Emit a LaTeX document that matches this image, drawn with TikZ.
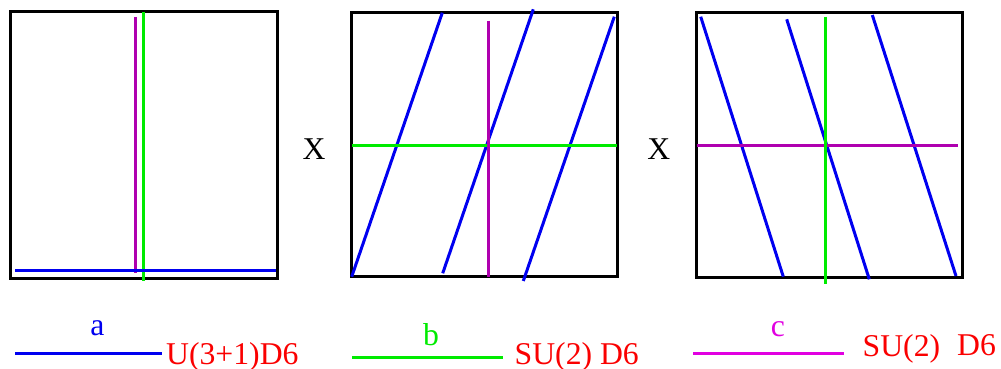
\documentclass[tikz,border=0pt]{standalone}
\usepackage{fontspec}
\setmainfont{Liberation Serif}
\definecolor{lblue}{RGB}{0,0,240}
\definecolor{lgreen}{RGB}{0,235,0}
\definecolor{lpurple}{RGB}{175,0,175}
\definecolor{lmagenta}{RGB}{225,0,225}
\definecolor{lred}{RGB}{250,0,0}
\tikzset{
  frame/.style={draw=black,line width=3pt},
  brane/.style={line width=3pt},
  lbl/.style={inner sep=0pt,font=\fontsize{31.7}{36}\selectfont},
}
\begin{document}
\begin{tikzpicture}[x=1pt,y=-1pt]
\useasboundingbox (0,0) rectangle (1001,369);
% box 1
\draw[frame] (10,12) rectangle (277,278);
\draw[brane,lpurple] (135.7,17) -- (135.7,273);
\draw[brane,lgreen] (143.3,12) -- (143.3,281);
\draw[brane,lblue] (15,270) -- (276,270);
% box 2
\draw[frame] (351.5,12.5) rectangle (617.5,276.8);
\draw[brane,lblue] (351.7,276.7) -- (442.3,12.7);
\draw[brane,lblue] (442.7,273.3) -- (533.3,9.3);
\draw[brane,lblue] (523.3,281) -- (614.3,16.7);
\draw[brane,lgreen] (352.3,145) -- (616.7,145);
\draw[brane,lpurple] (488.3,20.7) -- (488.3,276.7);
% box 3
\draw[frame] (696,12.5) rectangle (962.3,277.7);
\draw[brane,lblue] (700.7,16.7) -- (783.3,276.7);
\draw[brane,lblue] (786.7,19.3) -- (869.3,279.3);
\draw[brane,lblue] (872.3,15) -- (956,276);
\draw[brane,lpurple] (696.7,145) -- (957.7,145);
\draw[brane,lgreen] (825.3,16.7) -- (825.3,284.3);
% X labels
\node[lbl,anchor=base] (x1) at (314,159.3) {X};
\node[lbl,anchor=base] (x2) at (658.7,159) {X};
% legend
\draw[brane,lblue] (15,353) -- (161.7,353);
\node[lbl,anchor=base,text=lblue] (la) at (97.5,335) {a};
\node[lbl,anchor=base west,text=lred] (ta) at (166,364.5) {U(3+1)D6};
\draw[brane,lgreen] (352.3,357) -- (502.7,357);
\node[lbl,anchor=base,text=lgreen] (lb) at (431,345) {b};
\node[lbl,anchor=base west,text=lred] (tb) at (514.5,364.5) {SU(2) D6};
\draw[brane,lmagenta] (693.3,353) -- (844,353);
\node[lbl,anchor=base,text=lmagenta] (lc) at (778,336.5) {c};
\node[lbl,anchor=base west,text=lred] (tc) at (862.5,356.7) {SU(2)};
\node[lbl,anchor=base west,text=lred] (td) at (957,355.5) {D6};
\end{tikzpicture}
\end{document}
